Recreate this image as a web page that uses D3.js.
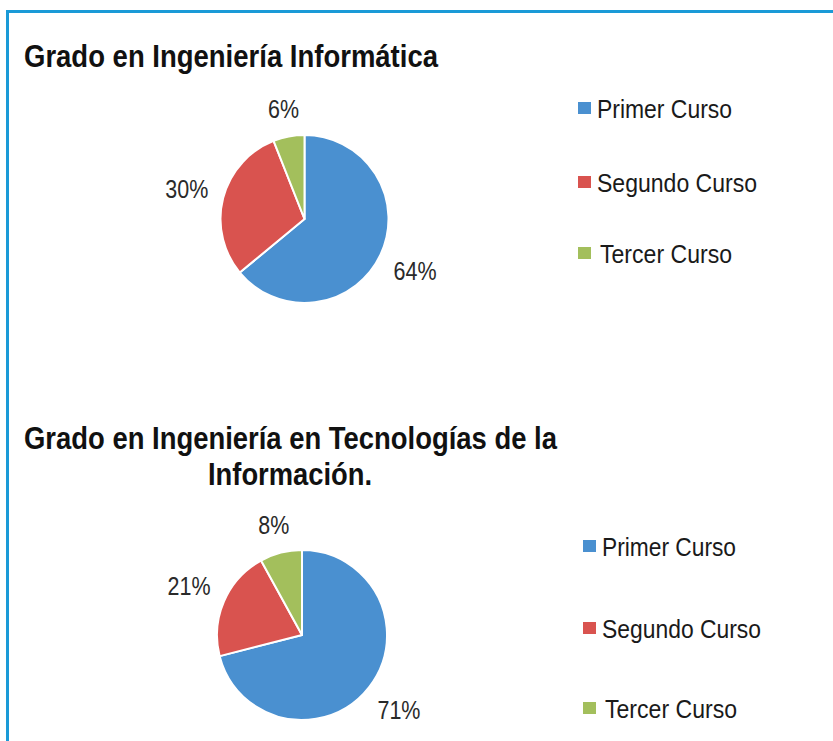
<!DOCTYPE html>
<html>
<head>
<meta charset="utf-8">
<script src="https://cdn.jsdelivr.net/npm/d3@7"></script>
<style>
  html, body { margin: 0; padding: 0; background: #fff; }
  svg { display: block; }
  text { font-family: "Liberation Sans Narrow", "Arial Narrow", "Liberation Sans", Arial, sans-serif; }
</style>
</head>
<body>
<div id="chart"></div>
<script>
const width = 833;
const height = 741;

// data
const cursos = ["Primer Curso", "Segundo Curso", "Tercer Curso"];
const informatica = [64, 30, 6];
const tecnologias = [71, 21, 8];
const colors = ["#4a90d0", "#d9534f", "#a3bf5c"];

const svg = d3.select("#chart").append("svg")
    .attr("width", width)
    .attr("height", height);

// blue frame (left + top edges only visible)
svg.append("path")
    .attr("d", `M7.5,${height} L7.5,11.5 L${width},11.5`)
    .attr("fill", "none")
    .attr("stroke", "#1a9ad7")
    .attr("stroke-width", 3);

const color = d3.scaleOrdinal().domain(cursos).range(colors);

function fitText(sel, w) {
    sel.attr("textLength", w).attr("lengthAdjust", "spacingAndGlyphs");
}

function drawPie(values, cx, cy, r, legendX, legendYs, legendW) {
    const data = cursos.map((c, i) => ({ curso: c, value: values[i] }));
    const pie = d3.pie().sort(null).value(d => d.value);
    const arc = d3.arc().innerRadius(0).outerRadius(r);
    const g = svg.append("g").attr("transform", `translate(${cx},${cy})`);
    const arcs = pie(data);

    g.selectAll("path").data(arcs).join("path")
        .attr("d", arc)
        .attr("fill", d => color(d.data.curso))
        .attr("stroke", "#fff")
        .attr("stroke-width", 2)
        .attr("stroke-linejoin", "round");

    // labels outside the end, Excel-like
    g.selectAll("text.pct").data(arcs).join("text")
        .attr("class", "pct")
        .attr("font-size", 25)
        .attr("fill", "#2a2a2a")
        .attr("text-anchor", "middle")
        .attr("dominant-baseline", "central")
        .text(d => d.data.value + "%")
        .each(function (d) {
            const a = (d.startAngle + d.endAngle) / 2;
            const w = d.data.value >= 10 ? 43 : 31;
            const sx = Math.sin(a), sy = -Math.cos(a);
            const half = (w / 2) * Math.abs(sx) + 11 * Math.abs(sy);
            const dist = r + 14 + half;
            d3.select(this)
                .attr("x", sx * dist)
                .attr("y", sy * dist);
            fitText(d3.select(this), w);
        });

    // legend
    const lg = svg.append("g");
    const items = lg.selectAll("g").data(cursos).join("g")
        .attr("transform", (d, i) => `translate(${legendX},${legendYs[i]})`);
    items.append("rect")
        .attr("x", 0).attr("y", -6)
        .attr("width", 13).attr("height", 12)
        .attr("fill", d => color(d));
    items.append("text")
        .attr("x", (d, i) => i === 2 ? 22 : 19)
        .attr("y", 1)
        .attr("dominant-baseline", "central")
        .attr("font-size", 26)
        .attr("fill", "#1a1a1a")
        .text(d => d)
        .each(function (d, i) { fitText(d3.select(this), legendW[i]); });
}

// titles
const t1 = svg.append("text")
    .attr("x", 24).attr("y", 67)
    .attr("font-size", 31).attr("font-weight", "bold").attr("fill", "#111")
    .text("Grado en Ingeniería Informática");
fitText(t1, 414);

const t2 = svg.append("text")
    .attr("x", 24).attr("y", 449)
    .attr("font-size", 31).attr("font-weight", "bold").attr("fill", "#111")
    .text("Grado en Ingeniería en Tecnologías de la");
fitText(t2, 533);

const t3 = svg.append("text")
    .attr("x", 290).attr("y", 485)
    .attr("text-anchor", "middle")
    .attr("font-size", 31).attr("font-weight", "bold").attr("fill", "#111")
    .text("Información.");
fitText(t3, 164);

drawPie(informatica, 304.5, 219, 84, 578, [108, 182, 253], [135, 160, 132]);
drawPie(tecnologias, 302, 635, 85, 583, [546, 628, 708], [134, 159, 132]);
</script>
</body>
</html>
